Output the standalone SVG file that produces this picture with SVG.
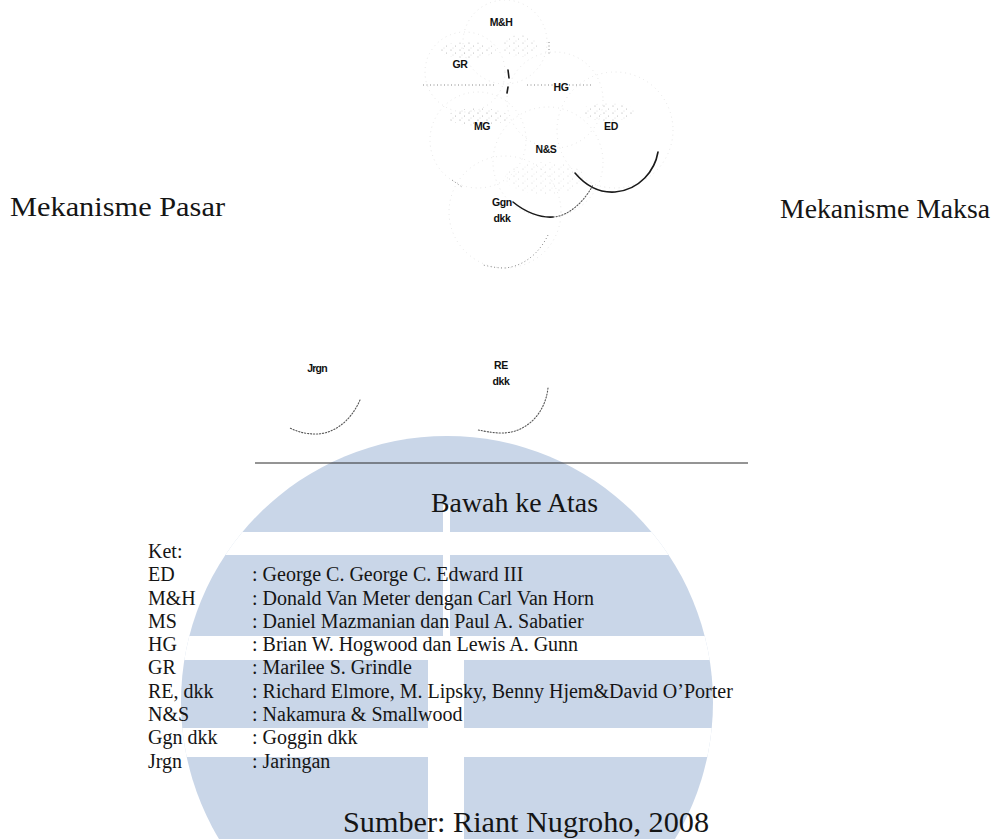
<svg xmlns="http://www.w3.org/2000/svg" width="995" height="839" viewBox="0 0 995 839">
  <style>
    .serif { font-family: "Liberation Serif", "Times New Roman", serif; fill: #151515; }
    .key { font-size: 20px; }
    .tag { font-family: "Liberation Sans", Arial, sans-serif; font-weight: bold; font-size: 10.5px; fill: #111; text-anchor: middle; letter-spacing: -0.4px; }
    .ghost { fill: none; stroke: #dcdcdc; stroke-width: 0.9; stroke-dasharray: 0.8 4; }
    .arc { fill: none; stroke: #555; stroke-width: 1.1; stroke-dasharray: 1.2 1.8; stroke-linecap: round; }
    .arcDark { fill: none; stroke: #1a1a1a; stroke-width: 1.6; stroke-linecap: round; }
    .dot { fill: none; stroke: #888; stroke-width: 1; stroke-dasharray: 1 2.5; }
    .band { fill: #c9d6e8; }
  </style>
  <defs>
    <pattern id="stipple" width="9" height="7" patternUnits="userSpaceOnUse">
      <circle cx="1" cy="1" r="0.6" fill="#555"/>
      <circle cx="5.5" cy="4" r="0.5" fill="#555"/>
      <circle cx="3" cy="6" r="0.45" fill="#777"/>
    </pattern>
    <clipPath id="disc">
      <circle cx="447" cy="702" r="266"/>
    </clipPath>
  </defs>

  <rect width="995" height="839" fill="#ffffff"/>

  <!-- background emblem: disc cut by white bands and a central slit -->
  <g id="emblem" clip-path="url(#disc)">
    <rect class="band" x="150" y="430" width="600" height="420"/>
    <rect x="150" y="532" width="600" height="23" fill="#fff"/>
    <rect x="150" y="636" width="600" height="24" fill="#fff"/>
    <rect x="150" y="728" width="600" height="29" fill="#fff"/>
    <rect x="443" y="505" width="7" height="131" fill="#fff"/>
    <rect x="428" y="660" width="36" height="190" fill="#fff"/>
  </g>

  <!-- overlapping model circles (upper cluster) -->
  <g id="cluster">
    <circle class="ghost" cx="505" cy="42" r="42"/>
    <circle class="ghost" cx="465" cy="72" r="40"/>
    <circle class="ghost" cx="555" cy="100" r="48"/>
    <circle class="ghost" cx="478" cy="140" r="48"/>
    <circle class="ghost" cx="615" cy="130" r="58"/>
    <circle class="ghost" cx="548" cy="162" r="55"/>
    <circle class="ghost" cx="505" cy="212" r="56"/>
    <ellipse cx="468" cy="50" rx="28" ry="8" fill="url(#stipple)" opacity="0.5"/>
    <ellipse cx="520" cy="46" rx="18" ry="11" fill="url(#stipple)" opacity="0.4"/>
    <ellipse cx="478" cy="117" rx="30" ry="9" fill="url(#stipple)" opacity="0.55"/>
    <ellipse cx="608" cy="112" rx="27" ry="9" fill="url(#stipple)" opacity="0.5"/>
    <ellipse cx="545" cy="178" rx="40" ry="16" fill="url(#stipple)" opacity="0.25"/>
    <path class="dot" d="M423,85 H495 M527,85 H592"/>
    <path class="arcDark" d="M508,70 L509,78 M508,87 L507,93"/>
    <path class="dot" d="M549,42 V54"/>
    <path class="dot" d="M452,180 L462,187"/>
  </g>

  <g id="node-mh"><text class="tag" x="501" y="26">M&amp;H</text></g>
  <g id="node-gr"><text class="tag" x="460" y="68">GR</text></g>
  <g id="node-hg"><text class="tag" x="561" y="91">HG</text></g>
  <g id="node-mg"><text class="tag" x="482" y="130">MG</text></g>
  <g id="node-ed"><text class="tag" x="611" y="130">ED</text></g>
  <g id="node-ns"><text class="tag" x="546" y="153">N&amp;S</text></g>
  <g id="node-ggn">
    <text class="tag" x="502" y="206">Ggn</text>
    <text class="tag" x="502" y="222">dkk</text>
  </g>

  <!-- visible arc edges -->
  <g id="connectors">
    <path class="arcDark" d="M575,173 C586,186 600,193 615,192 C640,190 655,170 658,152"/>
    <path class="arcDark" d="M513,202 C525,212 540,218 553,217"/>
    <path class="arc" d="M553,217 C570,216 585,200 593,185"/>
    <path class="dot" d="M548,235 C540,252 525,266 505,268 C495,268 488,266 483,265"/>
    <path class="arc" d="M360,400 C350,423 332,434 316,434 C304,434 296,431 290,428"/>
    <path class="arc" d="M548,388 C545,415 525,433 502,433 C492,433 484,431 478,430"/>
    <line x1="255" y1="463" x2="748" y2="463" stroke="#2a2a2a" stroke-width="1"/>
  </g>

  <g id="node-jrgn"><text class="tag" x="317" y="372" style="letter-spacing:-0.8px">Jrgn</text></g>
  <g id="node-re">
    <text class="tag" x="501" y="369">RE</text>
    <text class="tag" x="501" y="385">dkk</text>
  </g>

  <g id="axis-labels">
    <text class="serif" x="10" y="216" font-size="28" textLength="215" lengthAdjust="spacingAndGlyphs">Mekanisme Pasar</text>
    <text class="serif" x="780" y="218" font-size="28" textLength="210" lengthAdjust="spacingAndGlyphs">Mekanisme Maksa</text>
    <text class="serif" x="431" y="512" font-size="28" textLength="167" lengthAdjust="spacingAndGlyphs">Bawah ke Atas</text>
  </g>

  <g id="legend" class="serif key">
    <text x="148" y="558">Ket:</text>
    <text x="148" y="581">ED</text>
    <text x="148" y="604.5">M&amp;H</text>
    <text x="148" y="628">MS</text>
    <text x="148" y="651">HG</text>
    <text x="148" y="674">GR</text>
    <text x="148" y="697.5">RE, dkk</text>
    <text x="148" y="721">N&amp;S</text>
    <text x="148" y="744">Ggn dkk</text>
    <text x="148" y="767.5">Jrgn</text>
    <text x="252" y="581">: George C. George C. Edward III</text>
    <text x="252" y="604.5">: Donald Van Meter dengan Carl Van Horn</text>
    <text x="252" y="628">: Daniel Mazmanian dan Paul A. Sabatier</text>
    <text x="252" y="651">: Brian W. Hogwood dan Lewis A. Gunn</text>
    <text x="252" y="674">: Marilee S. Grindle</text>
    <text x="252" y="697.5">: Richard Elmore, M. Lipsky, Benny Hjem&amp;David O’Porter</text>
    <text x="252" y="721">: Nakamura &amp; Smallwood</text>
    <text x="252" y="744">: Goggin dkk</text>
    <text x="252" y="767.5">: Jaringan</text>
  </g>

  <g id="source">
    <text class="serif" x="343" y="832" font-size="29" textLength="366" lengthAdjust="spacingAndGlyphs">Sumber: Riant Nugroho, 2008</text>
  </g>
</svg>
